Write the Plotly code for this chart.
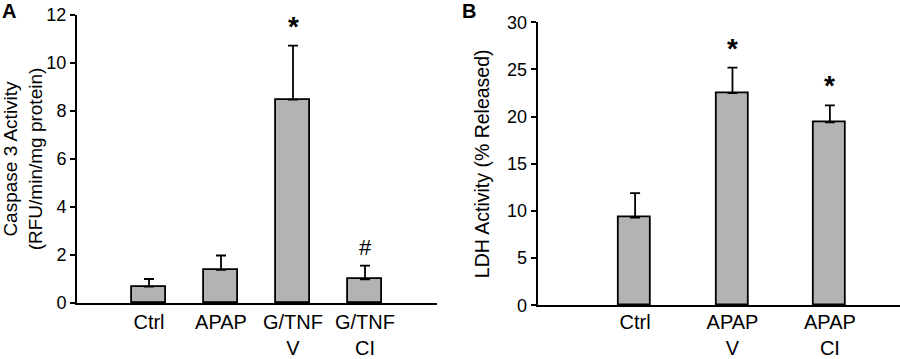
import plotly.graph_objects as go

# Panel A data
a_cats = ["Ctrl", "APAP", "G/TNF<br>V", "G/TNF<br>CI"]
a_vals = [0.68, 1.38, 8.47, 0.99]
a_errs = [0.32, 0.60, 2.25, 0.57]
a_marks = ["", "", "*", "#"]

# Panel B data
b_cats = ["Ctrl", "APAP<br>V", "APAP<br>CI"]
b_vals = [9.3, 22.5, 19.4]
b_errs = [2.6, 2.7, 1.8]
b_marks = ["", "*", "*"]

W, H = 900, 359
FONT = "Liberation Sans, Arial, sans-serif"
BAR = "#b3b3b3"

fig = go.Figure()

def px_x(p):
    return p / W

def px_y(p):
    return 1 - p / H

a_pos = list(range(1, len(a_cats) + 1))
b_pos = list(range(1, len(b_cats) + 1))

fig.add_trace(go.Bar(
    x=a_pos, y=a_vals, width=0.46, xaxis="x", yaxis="y",
    marker=dict(color=BAR, line=dict(color="black", width=1.8)),
    error_y=dict(type="data", array=a_errs, arrayminus=[0]*len(a_errs),
                 symmetric=False, color="black", thickness=1.8, width=5),
    showlegend=False, hoverinfo="skip"))

fig.add_trace(go.Bar(
    x=b_pos, y=b_vals, width=0.33, xaxis="x2", yaxis="y2",
    marker=dict(color=BAR, line=dict(color="black", width=1.8)),
    error_y=dict(type="data", array=b_errs, arrayminus=[0]*len(b_errs),
                 symmetric=False, color="black", thickness=1.8, width=5),
    showlegend=False, hoverinfo="skip"))

axis_common = dict(showgrid=False, zeroline=False, showline=True,
                   linecolor="black", linewidth=2, automargin=False)
xfont = dict(family=FONT, size=20, color="black")
yfont = dict(family=FONT, size=18, color="black")

fig.update_layout(
    width=W, height=H,
    margin=dict(l=0, r=0, t=0, b=0),
    plot_bgcolor="white", paper_bgcolor="white",
    font=dict(family=FONT, color="black"),
    bargap=0,
    xaxis=dict(**axis_common, domain=[px_x(77), px_x(437)], range=[0, 5],
               tickvals=a_pos, ticktext=a_cats, ticks="", anchor="y",
               tickfont=xfont, ticklabelstandoff=0),
    yaxis=dict(**axis_common, domain=[px_y(303), px_y(15)], range=[0, 12],
               tickvals=[0, 2, 4, 6, 8, 10, 12], ticks="outside", ticklen=5,
               tickwidth=2, tickcolor="black", anchor="x", tickfont=yfont,
               title=dict(text="Caspase 3 Activity<br>(RFU/min/mg protein)",
                          font=dict(family=FONT, size=19), standoff=8)),
    xaxis2=dict(**axis_common, domain=[px_x(537.7), 1.0], range=[0, 3.72],
                tickvals=b_pos, ticktext=b_cats, ticks="", anchor="y2",
                tickfont=xfont, ticklabelstandoff=-2),
    yaxis2=dict(**axis_common, domain=[px_y(305.3), px_y(22.3)], range=[0, 30],
                tickvals=[0, 5, 10, 15, 20, 25, 30], ticks="outside", ticklen=5,
                tickwidth=2, tickcolor="black", anchor="x2", tickfont=yfont,
                title=dict(text="LDH Activity (% Released)",
                           font=dict(family=FONT, size=19.5), standoff=12)),
)

annotations = []
for x, v, e, m in zip(a_pos, a_vals, a_errs, a_marks):
    if m:
        annotations.append(dict(x=x, y=v + e, xref="x", yref="y",
                                text="<b>*</b>" if m == "*" else m,
                                showarrow=False, yanchor="bottom",
                                yshift=2 if m == "*" else 4,
                                font=dict(family=FONT, size=28 if m == "*" else 22,
                                          color="black")))
for x, v, e, m in zip(b_pos, b_vals, b_errs, b_marks):
    if m:
        annotations.append(dict(x=x, y=v + e, xref="x2", yref="y2",
                                text="<b>*</b>",
                                showarrow=False, yanchor="bottom", yshift=2,
                                font=dict(family=FONT, size=28, color="black")))
annotations.append(dict(x=0, y=1, xref="paper", yref="paper", text="<b>A</b>",
                        showarrow=False, xanchor="left", yanchor="top", yshift=2,
                        font=dict(family=FONT, size=20, color="black")))
annotations.append(dict(x=px_x(460), y=1, xref="paper", yref="paper", text="<b>B</b>",
                        showarrow=False, xanchor="left", yanchor="top", yshift=2,
                        font=dict(family=FONT, size=20, color="black")))
fig.update_layout(annotations=annotations)

fig.write_html("out.html",
               config={"displayModeBar": False},
               post_script="document.body.style.margin='0px';"
                           "document.body.style.overflow='hidden';")
